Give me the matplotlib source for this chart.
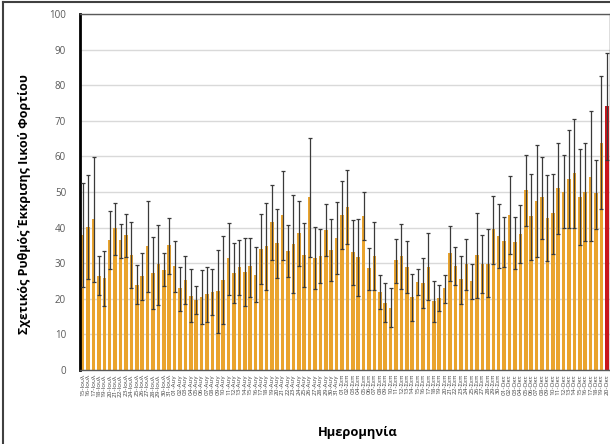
import matplotlib
matplotlib.use("Agg")
import matplotlib.pyplot as plt
import numpy as np
import pandas as pd
from matplotlib.lines import Line2D

plt.rcParams['font.family'] = ['Open Sans', 'DejaVu Sans']

# daily values 15-Jul .. 20-Oct
means = [37.9, 40.1, 42.3, 26.5, 25.8, 36.5, 39.9, 36.4, 37.8, 32.2,
         24.0, 26.3, 34.9, 27.3, 29.9, 28.2, 35.0, 29.1, 23.0, 25.2,
         20.9, 19.6, 20.5, 21.3, 22.0, 22.2, 25.3, 31.5, 27.3, 29.0,
         27.5, 29.2, 26.8, 34.0, 34.8, 41.7, 35.7, 43.5, 33.3, 35.4,
         38.6, 32.4, 48.7, 31.5, 32.1, 39.2, 33.8, 37.1, 43.6, 45.9,
         33.1, 31.7, 43.2, 28.6, 32.1, 21.8, 18.9, 17.5, 30.8, 31.9,
         28.9, 20.5, 24.8, 24.4, 29.0, 19.4, 20.1, 22.9, 32.9, 29.2,
         25.5, 29.9, 24.9, 32.2, 29.9, 29.9, 39.5, 37.5, 36.2, 43.5,
         35.9, 38.2, 50.6, 43.2, 47.5, 48.5, 42.8, 44.0, 51.0, 50.0,
         53.7, 55.2, 48.7, 49.9, 54.3, 49.6, 63.9, 74.2]
upper = [52.4, 54.8, 59.7, 31.9, 33.4, 44.6, 46.9, 41.0, 43.7, 41.6,
         29.4, 32.9, 47.5, 37.3, 40.7, 32.8, 42.8, 36.2, 28.9, 32.1,
         28.5, 23.5, 28.2, 28.8, 28.5, 33.7, 37.7, 41.2, 35.6, 36.6,
         37.1, 37.1, 34.5, 43.9, 46.9, 52.1, 45.1, 55.8, 40.7, 49.1,
         47.5, 41.4, 65.3, 40.1, 39.6, 46.5, 42.4, 47.2, 53.0, 56.3,
         42.2, 42.3, 49.9, 34.2, 41.6, 26.6, 24.3, 22.9, 36.8, 41.0,
         36.3, 27.1, 28.4, 31.4, 38.5, 25.1, 23.8, 26.8, 40.5, 34.5,
         32.1, 36.8, 29.9, 44.0, 38.0, 39.6, 49.0, 46.5, 42.9, 54.4,
         42.9, 46.3, 60.5, 55.1, 63.1, 59.7, 54.9, 55.1, 63.9, 60.3,
         67.5, 70.5, 62.0, 63.7, 72.7, 59.0, 82.6, 89.1]
lower = [23.3, 25.5, 24.7, 21.0, 17.9, 28.5, 32.4, 31.5, 31.7, 22.9,
         18.6, 19.7, 21.9, 17.1, 18.3, 23.5, 26.9, 21.9, 16.7, 18.4,
         13.5, 15.6, 12.9, 13.6, 15.5, 10.4, 12.9, 21.2, 18.8, 21.0,
         17.9, 20.5, 19.0, 24.1, 22.6, 31.0, 25.9, 31.0, 26.0, 21.7,
         29.3, 23.2, 31.8, 22.8, 24.4, 31.9, 24.9, 26.9, 34.0, 35.4,
         24.0, 20.7, 36.4, 22.6, 22.6, 17.0, 13.6, 12.2, 24.3, 22.8,
         21.5, 13.8, 21.2, 17.3, 19.6, 13.6, 16.5, 18.9, 25.1, 23.8,
         18.6, 22.6, 19.9, 20.2, 21.6, 20.6, 29.9, 28.6, 28.8, 32.5,
         28.4, 30.0, 40.4, 31.0, 31.7, 36.9, 30.5, 32.5, 38.1, 39.8,
         39.9, 39.8, 35.2, 36.2, 36.2, 39.6, 45.1, 59.0]

greek_months = {7: 'Ιουλ', 8: 'Αυγ', 9: 'Σεπ', 10: 'Οκτ'}
dates = pd.date_range('2020-07-15', periods=len(means), freq='D')
labels = [f"{d.day:02d}-{greek_months[d.month]}" for d in dates]

means = np.array(means)
yerr = np.array([means - np.array(lower), np.array(upper) - means])
x = np.arange(len(means))
colors = ['#EAA42E'] * (len(means) - 1) + ['#C8161D']

fig = plt.figure(figsize=(6.10, 4.44), dpi=100)
ax = fig.add_axes([80 / 610, 74 / 444, 530 / 610, 356 / 444])

ax.bar(x, means, width=0.66, color=colors, zorder=2)
ax.errorbar(x, means, yerr=yerr, fmt='none', ecolor='#3a3a3a',
            elinewidth=0.9, capsize=1.6, capthick=0.9, zorder=3)

ax.set_xlim(-0.5, len(means) - 0.4)
ax.set_ylim(0, 100)
ax.set_yticks(np.arange(0, 101, 10))
ax.yaxis.grid(True, color='#d9d9d9', linewidth=1.0, zorder=0)
ax.set_axisbelow(True)
ax.set_xticks(x)
ax.set_xticklabels(labels, rotation=90, fontsize=4.6, color='#404040')
ax.tick_params(axis='x', length=0, pad=3)
ax.tick_params(axis='y', length=0, labelsize=7, labelcolor='#595959', pad=10)

for side in ['top', 'right', 'bottom']:
    ax.spines[side].set_color('#595959')
    ax.spines[side].set_linewidth(1.0)
ax.spines['left'].set_color('black')
ax.spines['left'].set_linewidth(2.0)

fig.text(25 / 610, 1 - 204 / 444, 'Σχετικός Ρυθμός Έκκρισης Ιικού Φορτίου',
         rotation=90, ha='center', va='center', fontsize=9, fontweight='bold')
fig.text(358 / 610, 1 - 432 / 444, 'Ημερομηνία', ha='center', va='center',
         fontsize=9.3, fontweight='bold')

# outer frame (left and top edges visible)
fig.add_artist(Line2D([2.5 / 610, 2.5 / 610], [0, 1 - 2.5 / 444],
                      transform=fig.transFigure, color='#404040', linewidth=1.5))
fig.add_artist(Line2D([2.5 / 610, 1], [1 - 2.5 / 444, 1 - 2.5 / 444],
                      transform=fig.transFigure, color='#404040', linewidth=1.5))

fig.savefig('out.png', dpi=100)
